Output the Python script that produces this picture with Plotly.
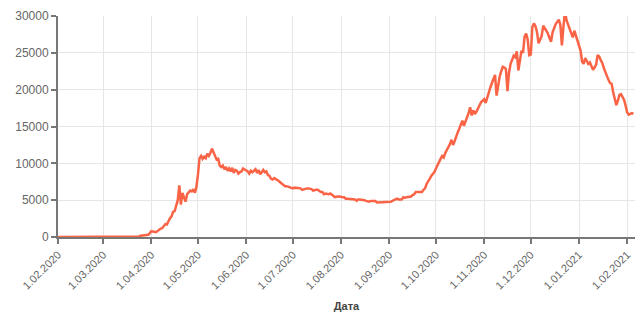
import pandas as pd
import plotly.graph_objects as go

# Daily values, month by month
feb_2020 = [0] * 29
mar_2020 = [0, 0, 1, 0, 0, 1, 4, 2, 3, 0, 10, 6, 11, 14, 20, 33, 30, 33, 52, 54,
            53, 62, 71, 57, 163, 182, 196, 228, 270, 302, 500]
apr_2020 = [800, 750, 700, 650, 800, 1000, 1150, 1200, 1450, 1750, 1700, 2200, 2550, 2800,
            3400, 3500, 4100, 5000, 7000, 4400, 6000, 5200, 4800, 5800, 6000, 6300, 6200,
            6500, 6000, 6800]
may_2020 = [8500, 10700, 11000, 10600, 10900, 10700, 11300, 11000, 11400, 12000, 11500,
            11000, 10500, 10600, 9700, 9500, 9700, 9200, 9500, 9000, 9300, 8900, 9400, 8700,
            9100, 9000, 8600, 8800, 8900, 9300, 9200]
jun_2020 = [9000, 8900, 8600, 9000, 8800, 9000, 9200, 8700, 9100, 8500, 8900, 9100, 8800,
            8900, 8400, 8300, 7900, 7800, 8000, 7900, 7700, 7600, 7400, 7200, 7100, 6900,
            6900, 6800, 6800, 6700]
jul_2020 = [6600, 6700, 6700, 6600, 6700, 6600, 6400, 6500, 6600, 6600, 6600, 6600, 6500,
            6300, 6400, 6400, 6400, 6200, 6100, 6100, 5800, 5900, 5800, 5800, 5900, 5800,
            5600, 5400, 5500, 5500, 5500]
aug_2020 = [5400, 5400, 5400, 5200, 5200, 5200, 5200, 5200, 5200, 5100, 4900, 5100, 5100,
            5100, 5100, 5000, 4900, 4800, 4800, 4900, 4900, 4900, 4900, 4700, 4700, 4700,
            4700, 4800, 4800, 4800, 4700]
sep_2020 = [4700, 4800, 4900, 5000, 5200, 5200, 5100, 5100, 5100, 5400, 5300, 5400, 5400,
            5500, 5500, 5700, 5800, 6100, 6100, 6200, 6200, 6100, 6400, 6600, 7200, 7500,
            7900, 8300, 8500, 8800]
oct_2020 = [9300, 9800, 10200, 10600, 11000, 10800, 11400, 11800, 12100, 12600, 13200, 12500,
            13000, 13800, 14200, 14700, 15300, 15800, 15100, 15600, 16300, 16800, 17600,
            16500, 17200, 16700, 17000, 17500, 17900, 18300, 18500]
nov_2020 = [18700, 18200, 19000, 19500, 20300, 20900, 21500, 22000, 19200, 20800, 21800,
            22500, 23100, 23000, 22800, 19800, 22300, 23500, 24200, 24600, 24400, 25200,
            22600, 24000, 25300, 25000, 27200, 27600, 26800, 24700]
dec_2020 = [24800, 28500, 29000, 28600, 27800, 26300, 26800, 27300, 28700, 28400, 28000,
            27600, 27000, 26500, 27800, 28500, 28900, 29200, 29500, 28800, 26000, 28600,
            30600, 29400, 28800, 28300, 27600, 27100, 28000, 27400, 26700]
jan_2021 = [26200, 25300, 23800, 23500, 24300, 23900, 23500, 23700, 23200, 22700, 23000,
            23400, 24700, 24500, 24000, 23600, 22900, 22300, 21700, 21300, 20900, 20800,
            19600, 18600, 17900, 18500, 19300, 19400, 19000, 18600, 17800]
feb_2021 = [16900, 16600, 16700, 16800, 16700]

values = (feb_2020 + mar_2020 + apr_2020 + may_2020 + jun_2020 + jul_2020 + aug_2020
          + sep_2020 + oct_2020 + nov_2020 + dec_2020 + jan_2021 + feb_2021)
dates = pd.date_range("2020-02-01", periods=len(values), freq="D")

tick_dates = pd.date_range("2020-02-01", "2021-02-01", freq="MS")
tick_labels = [f"{d.day}.{d.month:02d}.{d.year}" for d in tick_dates]
y_ticks = [0, 5000, 10000, 15000, 20000, 25000, 30000]

fig = go.Figure(go.Scatter(
    x=dates, y=values, mode="lines",
    line=dict(color="#fa6446", width=2.5),
    hoverinfo="skip",
))

font_family = "Liberation Sans, Arial, sans-serif"
fig.update_layout(
    width=636, height=307,
    margin=dict(l=50, r=9, t=8, b=78),
    paper_bgcolor="white", plot_bgcolor="white",
    showlegend=False,
    font=dict(family=font_family, color="#666", size=11),
    xaxis=dict(
        range=["2020-02-01", "2021-02-06"],
        tickvals=tick_dates, ticktext=tick_labels, tickangle=-45,
        tickfont=dict(size=11, color="#666"),
        showgrid=True, gridcolor="#e6e6e6", gridwidth=1,
        showline=True, linecolor="#777", linewidth=2,
        ticks="outside", ticklen=5, tickcolor="#777", tickwidth=1.5,
        zeroline=False, automargin=False,
        title=dict(text="<b>Дата</b>", font=dict(size=11, color="#444"), standoff=12),
    ),
    yaxis=dict(
        range=[0, 30000],
        tickvals=y_ticks, ticktext=[str(v) for v in y_ticks],
        tickfont=dict(size=12, color="#666"),
        showgrid=True, gridcolor="#e6e6e6", gridwidth=1,
        showline=True, linecolor="#777", linewidth=2,
        ticks="outside", ticklen=5, tickcolor="#777", tickwidth=1.5,
        zeroline=False, automargin=False,
    ),
)

fig.write_html("out.html")
